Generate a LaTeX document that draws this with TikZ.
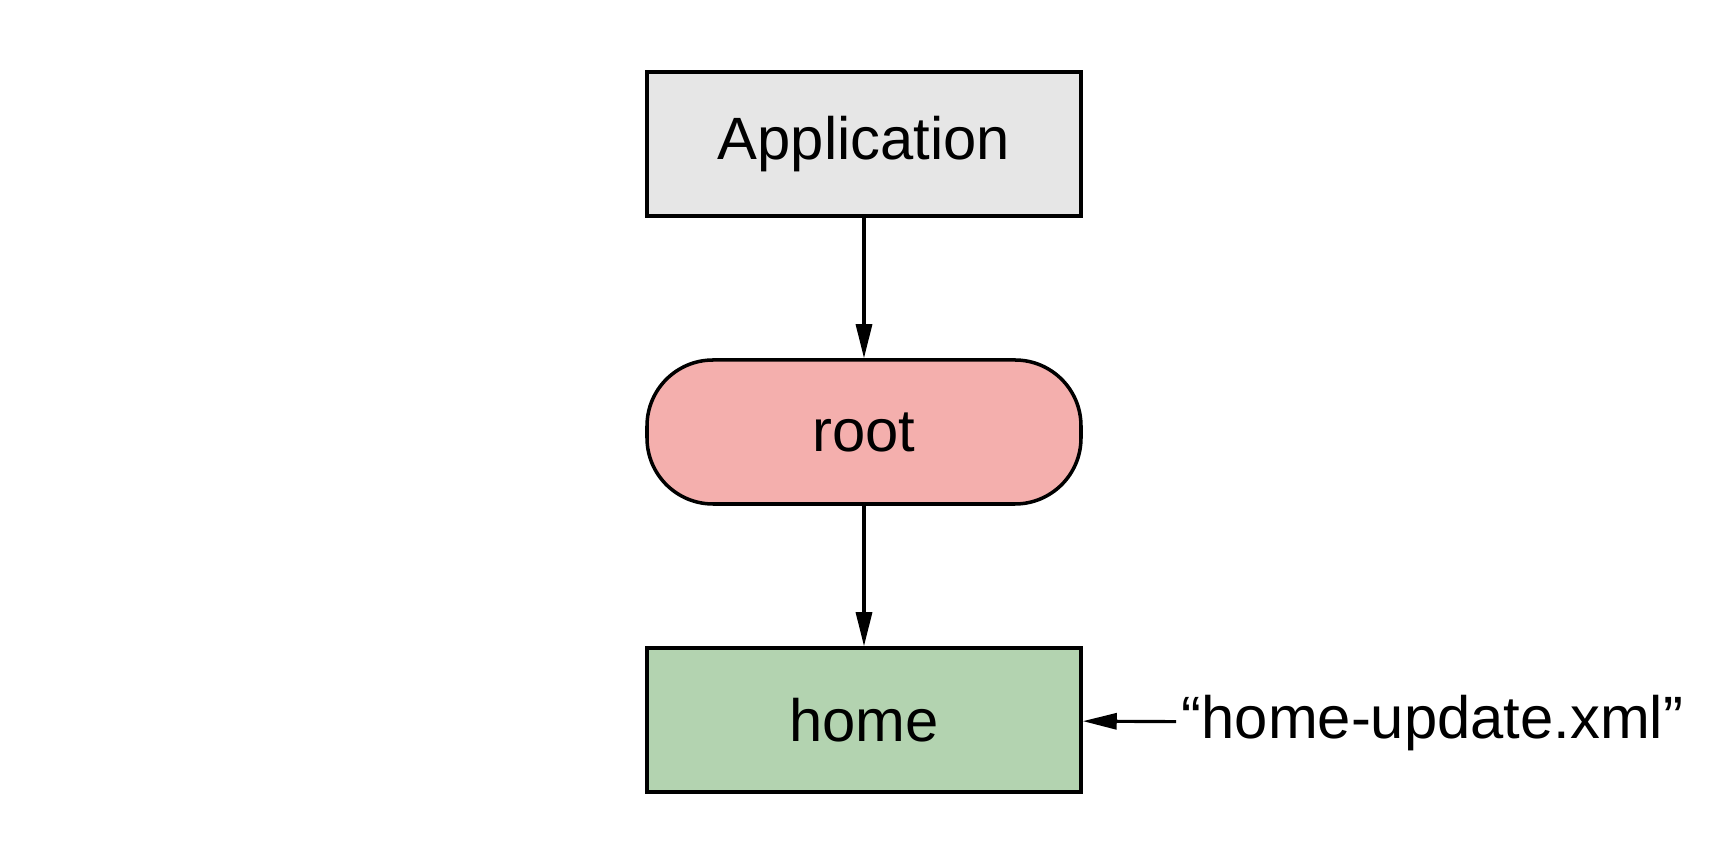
\documentclass[tikz,border=0pt]{standalone}
\usepackage{fontspec}
\setmainfont{Liberation Sans}
\usetikzlibrary{arrows.meta,positioning}

\definecolor{appgray}{HTML}{E6E6E6}
\definecolor{rootpink}{HTML}{F4AFAD}
\definecolor{homegreen}{HTML}{B3D3B0}

\tikzset{
  block/.style={draw, line width=1pt, minimum width=4.34cm, minimum height=1.44cm,
    inner sep=0pt, font=\fontsize{17}{20}\selectfont},
  pill/.style={block, rounded corners=0.66cm},
  link/.style={-{Triangle[length=3.4mm, width=1.6mm]}, line width=0.9pt},
}

\begin{document}
\begin{tikzpicture}
\useasboundingbox (0,0) rectangle (17.28,-8.64);
\node[block, fill=appgray] (app) at (8.64, -1.44) {Application};
\node[pill, fill=rootpink] (root) at (8.64, -4.32) {root};
\node[block, fill=homegreen] (home) at (8.64, -7.20) {home};
\node[anchor=west, inner sep=0.5mm, font=\fontsize{17}{20}\selectfont] (update)
  at (11.76, -7.23) {“home-update.xml”};
\path[link] (app) edge (root);
\path[link] (root) edge (home);
\path[link] (update) edge (home);
\end{tikzpicture}
\end{document}
